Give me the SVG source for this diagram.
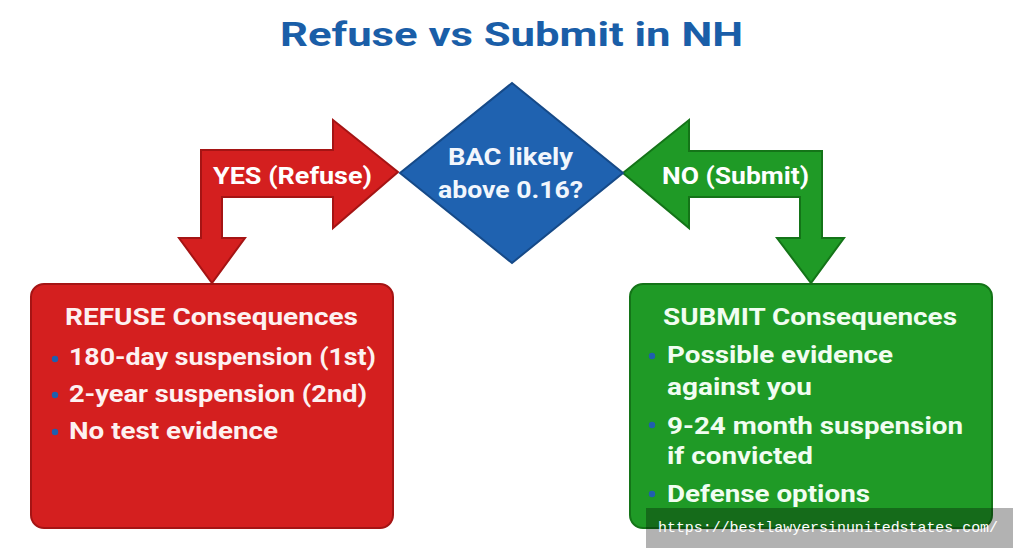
<svg xmlns="http://www.w3.org/2000/svg" width="1024" height="559" viewBox="0 0 1024 559">
<style>
text{font-family:Roboto,"Liberation Sans",sans-serif;font-weight:bold}
.title{fill:#1a5ea8;font-size:33px}
.lbl{fill:#ffffff;font-size:23px}
.hd{font-size:24px}
.it{font-size:24px}
.r text{fill:#fdf1f1}
.g text{fill:#f1fdf1}
.dot{fill:#1f5fae}
.redf{fill:#d41f1f;stroke:#a51414;stroke-width:2;stroke-linejoin:miter}
.grnf{fill:#1f9a26;stroke:#147418;stroke-width:2;stroke-linejoin:miter}
</style>
<rect width="1024" height="559" fill="#ffffff"/>
<g id="title"><text class="title" x="280" y="46" textLength="463" lengthAdjust="spacingAndGlyphs">Refuse vs Submit in NH</text></g>
<g id="connectors">
<g id="yes-arrow">
<polygon class="redf" points="201,238 201,150 333,150 333,120 398,172 333,228 333,197 222,197 222,238 245,238 212,283 179,238"/>
<text class="lbl" x="213" y="184" textLength="159" lengthAdjust="spacingAndGlyphs">YES (Refuse)</text>
</g>
<g id="no-arrow">
<polygon class="grnf" points="822,238 822,151 689,151 689,120 623,173 689,228 689,197 800,197 800,238 777,238 811,283 844,238"/>
<text class="lbl" x="662" y="184" textLength="147" lengthAdjust="spacingAndGlyphs">NO (Submit)</text>
</g>
</g>
<g id="decision">
<polygon points="512,83 623,173 512,263 400,173" fill="#1f62b0" stroke="#164a88" stroke-width="2"/>
<text class="lbl" x="448" y="165" textLength="125" lengthAdjust="spacingAndGlyphs" style="fill:#f2f6fc">BAC likely</text>
<text class="lbl" x="438" y="198" textLength="145" lengthAdjust="spacingAndGlyphs" style="fill:#f2f6fc">above 0.16?</text>
</g>
<g id="refuse" class="r">
<rect class="redf" x="31" y="284" width="362" height="244" rx="13"/>
<text class="hd" x="65" y="325" textLength="293" lengthAdjust="spacingAndGlyphs">REFUSE Consequences</text>
<circle class="dot" cx="55" cy="359" r="3.2"/>
<text class="it" x="69" y="365" textLength="307" lengthAdjust="spacingAndGlyphs">180-day suspension (1st)</text>
<circle class="dot" cx="55" cy="395" r="3.2"/>
<text class="it" x="69" y="402" textLength="298" lengthAdjust="spacingAndGlyphs">2-year suspension (2nd)</text>
<circle class="dot" cx="55" cy="432" r="3.2"/>
<text class="it" x="69" y="439" textLength="209" lengthAdjust="spacingAndGlyphs">No test evidence</text>
</g>
<g id="submit" class="g">
<rect class="grnf" x="630" y="284" width="362" height="244" rx="13"/>
<text class="hd" x="663" y="325" textLength="294" lengthAdjust="spacingAndGlyphs">SUBMIT Consequences</text>
<circle class="dot" cx="652" cy="356" r="3.2"/>
<text class="it" x="667" y="363" textLength="226" lengthAdjust="spacingAndGlyphs">Possible evidence</text>
<text class="it" x="667" y="395" textLength="145" lengthAdjust="spacingAndGlyphs">against you</text>
<circle class="dot" cx="652" cy="425" r="3.2"/>
<text class="it" x="667" y="434" textLength="296" lengthAdjust="spacingAndGlyphs">9-24 month suspension</text>
<text class="it" x="667" y="464" textLength="146" lengthAdjust="spacingAndGlyphs">if convicted</text>
<circle class="dot" cx="652" cy="494" r="3.2"/>
<text class="it" x="667" y="502" textLength="203" lengthAdjust="spacingAndGlyphs">Defense options</text>
</g>
<g id="watermark">
<rect x="646" y="508" width="367" height="40" fill="#000000" fill-opacity="0.3"/>
<text x="658" y="532" textLength="340" lengthAdjust="spacingAndGlyphs" style="font-family:'Liberation Mono','DejaVu Sans Mono',monospace;font-weight:normal;font-size:15px;fill:#ffffff">https://bestlawyersinunitedstates.com/</text>
</g>
</svg>
